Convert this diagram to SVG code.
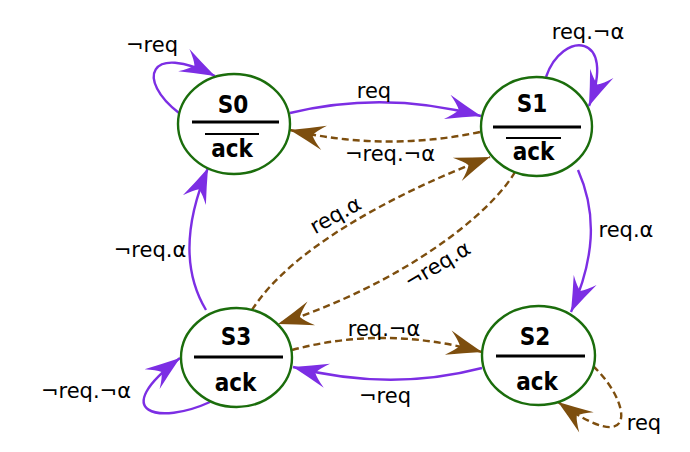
<svg xmlns="http://www.w3.org/2000/svg" width="690" height="452" viewBox="0 0 690 452">
<style>
.st{fill:#fff;stroke:#1b6d0c;stroke-width:2.4}
.nm{font-family:'DejaVu Sans Condensed','DejaVu Sans',sans-serif;font-weight:bold;font-size:24px;fill:#000;text-anchor:middle}
.bar{stroke:#000;stroke-width:3.2}
.ob{stroke:#000;stroke-width:2.2}
.lb{font-family:'DejaVu Sans',sans-serif;font-size:21px;fill:#000;text-anchor:middle}
.p{fill:none;stroke:#7c2ee4;stroke-width:2.4;marker-end:url(#ap)}
.b{fill:none;stroke:#7d4e0e;stroke-width:2.4;stroke-dasharray:7 4;marker-end:url(#ab)}
</style>
<defs>
<marker id="ap" markerUnits="userSpaceOnUse" viewBox="-38 -15 40 30" refX="0" refY="0" markerWidth="40" markerHeight="30" orient="auto">
<path d="M0,0 Q-18,-6 -35,-12.5 Q-26,-5 -23,0 Q-26,5 -35,12.5 Q-18,6 0,0 Z" fill="#7c2ee4"/>
</marker>
<marker id="ab" markerUnits="userSpaceOnUse" viewBox="-38 -15 40 30" refX="0" refY="0" markerWidth="40" markerHeight="30" orient="auto">
<path d="M0,0 Q-18,-6 -35,-12.5 Q-26,-5 -23,0 Q-26,5 -35,12.5 Q-18,6 0,0 Z" fill="#7d4e0e"/>
</marker>
</defs>
<g id="edges">
<path class="p" d="M290,113 Q385,90 481,116"/>
<path class="b" d="M480,132 Q385,152 290,130"/>
<path class="p" d="M546,77 C562,30 618,32 589,106"/>
<path class="p" d="M179,113 C136,80 148,42 215,76"/>
<path class="p" d="M578,170 C598,215 594,260 571,312"/>
<path class="p" d="M206,310 C182,270 186,220 208,168"/>
<path class="b" d="M252,310 C290,250 390,195 490,157"/>
<path class="b" d="M515,172 C490,215 400,285 278,324"/>
<path class="b" d="M292,350 Q385,325 482,352"/>
<path class="p" d="M482,368 Q390,392 293,367"/>
<path class="p" d="M210,402 C160,425 106,414 180,358"/>
<path class="b" d="M593,366 C630,400 642,462 558,402"/>
</g>
<g id="edge-labels">
<text class="lb" x="152" y="52">¬req</text>
<text class="lb" x="374" y="98">req</text>
<text class="lb" x="390" y="161">¬req.¬α</text>
<text class="lb" x="588" y="39">req.¬α</text>
<text class="lb" x="626" y="237">req.α</text>
<text class="lb" x="150" y="257">¬req.α</text>
<text class="lb" x="384" y="336">req.¬α</text>
<text class="lb" x="385" y="403">¬req</text>
<text class="lb" x="86" y="398">¬req.¬α</text>
<text class="lb" x="644" y="430">req</text>
<text class="lb" transform="translate(336,216) rotate(-29)" y="6">req.α</text>
<text class="lb" transform="translate(438,266) rotate(-31)" y="6">¬req.α</text>
</g>
<g id="S0">
<ellipse class="st" cx="234" cy="124" rx="56" ry="50"/>
<text class="nm" x="233" y="113">S0</text>
<line class="bar" x1="192" y1="122" x2="279" y2="122"/>
<line class="ob" x1="205" y1="134" x2="259" y2="134"/>
<text class="nm" x="232" y="157">ack</text>
</g>
<g id="S1">
<ellipse class="st" cx="536.5" cy="126.5" rx="55.5" ry="49.5"/>
<text class="nm" x="532" y="112">S1</text>
<line class="bar" x1="493" y1="127" x2="581" y2="127"/>
<line class="ob" x1="506" y1="138" x2="561" y2="138"/>
<text class="nm" x="533.5" y="160">ack</text>
</g>
<g id="S2">
<ellipse class="st" cx="538.5" cy="355.5" rx="56.5" ry="49.5"/>
<text class="nm" x="535" y="345">S2</text>
<line class="bar" x1="496" y1="356" x2="585" y2="356"/>
<text class="nm" x="537" y="390">ack</text>
</g>
<g id="S3">
<ellipse class="st" cx="236.5" cy="357.5" rx="55.5" ry="49.5"/>
<text class="nm" x="236" y="345">S3</text>
<line class="bar" x1="194" y1="357" x2="283" y2="357"/>
<text class="nm" x="235.5" y="391">ack</text>
</g>
</svg>
